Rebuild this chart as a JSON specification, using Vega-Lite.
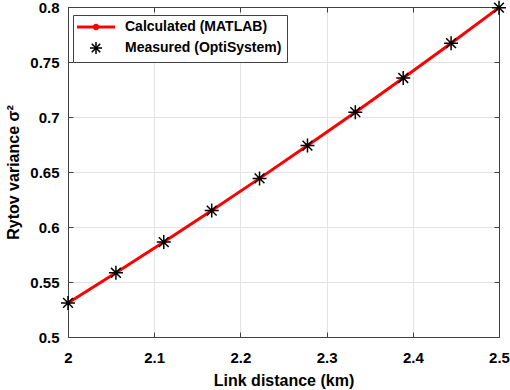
{
  "$schema": "https://vega.github.io/schema/vega-lite/v6.json",
  "width": 431,
  "height": 330,
  "autosize": {"type": "none"},
  "padding": {"left": 68, "top": 7, "right": 11, "bottom": 53},
  "background": "white",
  "config": {
    "view": {"stroke": "#404040", "strokeWidth": 1},
    "font": "Liberation Sans",
    "axis": {
      "labelFont": "Liberation Sans",
      "labelFontWeight": "bold",
      "labelFontSize": 15,
      "labelColor": "black",
      "titleFont": "Liberation Sans",
      "titleFontWeight": "bold",
      "titleFontSize": 16,
      "titleColor": "black",
      "domainColor": "#404040",
      "tickColor": "#404040",
      "tickSize": -5,
      "gridColor": "#e3e3e3",
      "gridWidth": 1
    }
  },
  "data": {
    "values": [
      {"L": 2.0, "sigma": 0.531, "series": "Calculated (MATLAB)"},
      {"L": 2.0556, "sigma": 0.5584, "series": "Calculated (MATLAB)"},
      {"L": 2.1111, "sigma": 0.5863, "series": "Calculated (MATLAB)"},
      {"L": 2.1667, "sigma": 0.6149, "series": "Calculated (MATLAB)"},
      {"L": 2.2222, "sigma": 0.6442, "series": "Calculated (MATLAB)"},
      {"L": 2.2778, "sigma": 0.674, "series": "Calculated (MATLAB)"},
      {"L": 2.3333, "sigma": 0.7044, "series": "Calculated (MATLAB)"},
      {"L": 2.3889, "sigma": 0.7355, "series": "Calculated (MATLAB)"},
      {"L": 2.4444, "sigma": 0.7671, "series": "Calculated (MATLAB)"},
      {"L": 2.5, "sigma": 0.7994, "series": "Calculated (MATLAB)"},
      {"L": 2.0, "sigma": 0.531, "series": "Measured (OptiSystem)"},
      {"L": 2.0556, "sigma": 0.5584, "series": "Measured (OptiSystem)"},
      {"L": 2.1111, "sigma": 0.5863, "series": "Measured (OptiSystem)"},
      {"L": 2.1667, "sigma": 0.6149, "series": "Measured (OptiSystem)"},
      {"L": 2.2222, "sigma": 0.6442, "series": "Measured (OptiSystem)"},
      {"L": 2.2778, "sigma": 0.674, "series": "Measured (OptiSystem)"},
      {"L": 2.3333, "sigma": 0.7044, "series": "Measured (OptiSystem)"},
      {"L": 2.3889, "sigma": 0.7355, "series": "Measured (OptiSystem)"},
      {"L": 2.4444, "sigma": 0.7671, "series": "Measured (OptiSystem)"},
      {"L": 2.5, "sigma": 0.7994, "series": "Measured (OptiSystem)"}
    ]
  },
  "layer": [
    {
      "transform": [{"filter": "datum.series === 'Calculated (MATLAB)'"}],
      "mark": {"type": "line", "strokeWidth": 3, "point": {"filled": true, "size": 20}},
      "encoding": {
        "x": {
          "field": "L", "type": "quantitative",
          "scale": {"domain": [2, 2.5], "nice": false, "zero": false},
          "axis": {"title": "Link distance (km)", "values": [2, 2.1, 2.2, 2.3, 2.4, 2.5], "format": ".1~f", "grid": true, "labelPadding": 18, "titlePadding": 7, "labelFlush": false}
        },
        "y": {
          "field": "sigma", "type": "quantitative",
          "scale": {"domain": [0.5, 0.8], "nice": false, "zero": false},
          "axis": {"title": "Rytov variance σ²", "values": [0.5, 0.55, 0.6, 0.65, 0.7, 0.75, 0.8], "format": ".2~f", "grid": true, "labelPadding": 14, "titlePadding": 8, "labelFlush": false}
        },
        "color": {
          "field": "series", "type": "nominal",
          "scale": {"domain": ["Calculated (MATLAB)", "Measured (OptiSystem)"], "range": ["#ff0000", "#000000"]},
          "legend": {
            "title": null,
            "orient": "none",
            "legendX": 5,
            "legendY": 8,
            "direction": "vertical",
            "fillColor": "white",
            "strokeColor": "#404040",
            "padding": 5,
            "rowPadding": 4,
            "labelFont": "Liberation Sans",
            "labelFontSize": 14,
            "labelFontWeight": "bold",
            "labelColor": "black",
            "symbolSize": 100,
            "symbolOffset": 11,
            "labelOffset": 22,
            "encode": {
              "symbols": {
                "update": {
                  "shape": {"signal": "datum.value === 'Calculated (MATLAB)' ? 'M-3.8,0H3.8M0.35,0A0.35,0.35 0 1 1 -0.35,0A0.35,0.35 0 1 1 0.35,0Z' : 'M-1.2,0H1.2M0,-1.2V1.2M-0.85,-0.85L0.85,0.85M-0.85,0.85L0.85,-0.85'"},
                  "stroke": {"signal": "datum.value === 'Calculated (MATLAB)' ? '#ff0000' : '#000000'"},
                  "fill": {"signal": "datum.value === 'Calculated (MATLAB)' ? '#ff0000' : 'transparent'"},
                  "strokeWidth": {"signal": "datum.value === 'Calculated (MATLAB)' ? 3 : 1.5"},
                  "opacity": {"value": 1},
                  "fillOpacity": {"value": 1},
                  "strokeOpacity": {"value": 1}
                }
              }
            }
          }
        }
      }
    },
    {
      "transform": [{"filter": "datum.series === 'Measured (OptiSystem)'"}],
      "mark": {"type": "point", "shape": "M-1,0H1M0,-1V1M-0.7,-0.7L0.7,0.7M-0.7,0.7L0.7,-0.7", "filled": false, "size": 196, "strokeWidth": 1.5, "opacity": 1, "color": "black"},
      "encoding": {
        "x": {"field": "L", "type": "quantitative", "axis": null},
        "y": {"field": "sigma", "type": "quantitative", "axis": null}
      }
    },
    {
      "mark": {"type": "point", "opacity": 0},
      "encoding": {
        "x": {"field": "L", "type": "quantitative", "axis": {"orient": "top", "labels": false, "title": null, "grid": false, "values": [2, 2.1, 2.2, 2.3, 2.4, 2.5]}},
        "y": {"field": "sigma", "type": "quantitative", "axis": {"orient": "right", "labels": false, "title": null, "grid": false, "values": [0.5, 0.55, 0.6, 0.65, 0.7, 0.75, 0.8]}}
      }
    }
  ],
  "resolve": {"axis": {"x": "independent", "y": "independent"}}
}
